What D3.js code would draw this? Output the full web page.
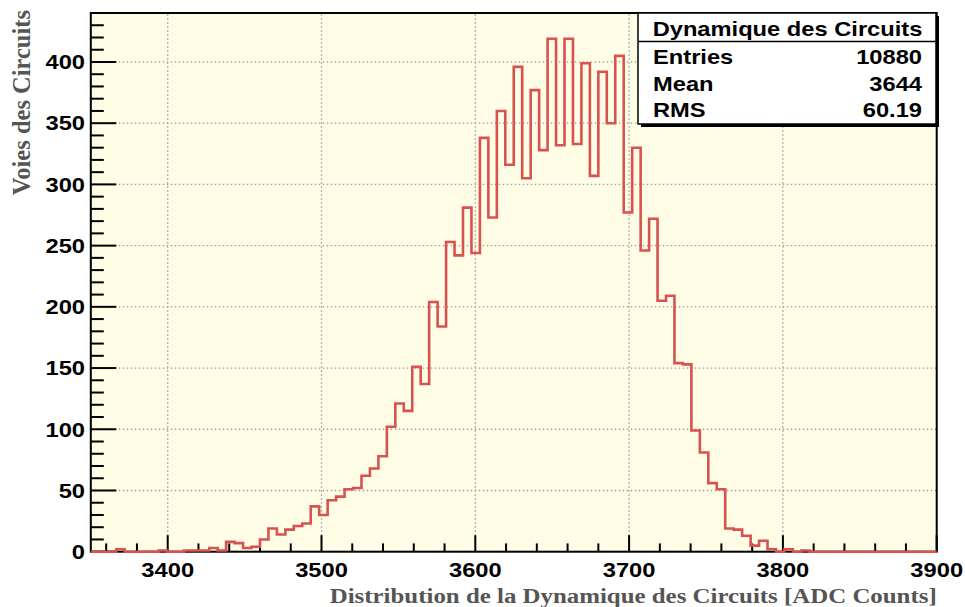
<!DOCTYPE html>
<html>
<head>
<meta charset="utf-8">
<script src="https://cdn.jsdelivr.net/npm/d3@7"></script>
<style>
  html, body { margin: 0; padding: 0; background: #ffffff; }
  svg { display: block; }
</style>
</head>
<body>
<svg id="chart" width="965" height="607"></svg>
<script>
// Histogram binning: 100 bins of 5.5 ADC counts starting at 3350
const binStart = 3350;
const binWidth = 5.5;
const binCounts = [
  0, 0, 0, 2, 0, 0, 0, 0, 1, 0,
  0, 1, 1, 1, 3, 1, 8, 7, 3, 4,
  10, 19, 14, 18, 21, 23, 37, 30, 42, 45,
  51, 52, 62, 68, 78, 102, 121, 115, 151, 137,
  204, 184, 253, 242, 281, 244, 338, 273, 360, 316,
  396, 305, 377, 328, 419, 332, 419, 333, 399, 307,
  392, 350, 405, 277, 330, 246, 272, 205, 209, 154,
  153, 99, 81, 56, 51, 19, 18, 13, 5, 9,
  2, 0, 2, 0, 1, 0, 0, 0, 0, 0,
  0, 0, 0, 0, 0, 0, 0, 0, 0, 0
];

// Axis ranges and tick values
const xDomain = [3350, 3900];
const yDomain = [0, 440];
const xMajorTicks = [3400, 3500, 3600, 3700, 3800, 3900];
const xMinorTicks = [3360, 3380, 3420, 3440, 3460, 3480, 3520, 3540, 3560, 3580,
                     3620, 3640, 3660, 3680, 3720, 3740, 3760, 3780, 3820, 3840, 3860, 3880];
const yMajorTicks = [0, 50, 100, 150, 200, 250, 300, 350, 400];
const yMinorTicks = [10, 20, 30, 40, 60, 70, 80, 90, 110, 120, 130, 140, 160, 170, 180, 190,
                     210, 220, 230, 240, 260, 270, 280, 290, 310, 320, 330, 340, 360, 370, 380, 390,
                     410, 420, 430];

// Text
const xTitle = "Distribution de la Dynamique des Circuits [ADC Counts]";
const yTitle = "Voies des Circuits";
const statsTitle = "Dynamique des Circuits";
const statsLabels = ["Entries", "Mean", "RMS"];
const statsValues = ["10880", "3644", "60.19"];

const svg = d3.select("#chart");
const frame = { left: 90.8, right: 936.7, top: 13, bottom: 551.7 };

const x = d3.scaleLinear().domain(xDomain).range([frame.left, frame.right]);
const y = d3.scaleLinear().domain(yDomain).range([frame.bottom, frame.top]);

const sansBold = "'Liberation Sans', Arial, Helvetica, sans-serif";
const serifBold = "'Liberation Serif', 'Times New Roman', Times, serif";
const textStretch = 1.185;   // wide glyph aspect of the canvas fonts

// Draws a horizontally widened text label anchored at (px, py)
function wideText(parent, px, py, str, anchor, family, size, fill) {
  const g = parent.append("g")
    .attr("transform", `translate(${px},${py}) scale(${textStretch},1)`);
  g.append("text")
    .attr("x", 0).attr("y", 0)
    .attr("text-anchor", anchor)
    .attr("font-family", family).attr("font-weight", "bold").attr("font-size", size)
    .attr("fill", fill)
    .text(str);
  return g;
}

// Frame background
svg.append("rect")
  .attr("x", frame.left).attr("y", frame.top)
  .attr("width", frame.right - frame.left).attr("height", frame.bottom - frame.top)
  .attr("fill", "#fffde6");

// Dotted grid
const grid = svg.append("g")
  .attr("stroke", "#9a9a9a").attr("stroke-width", 1.3)
  .attr("stroke-dasharray", "1.4,2.6");
grid.selectAll("line.gx").data(xMajorTicks).join("line")
  .attr("class", "gx")
  .attr("x1", d => x(d)).attr("x2", d => x(d))
  .attr("y1", frame.bottom).attr("y2", frame.top);
grid.selectAll("line.gy").data(yMajorTicks).join("line")
  .attr("class", "gy")
  .attr("x1", frame.left).attr("x2", frame.right)
  .attr("y1", d => y(d)).attr("y2", d => y(d));

// Frame border
svg.append("rect")
  .attr("x", frame.left).attr("y", frame.top)
  .attr("width", frame.right - frame.left).attr("height", frame.bottom - frame.top)
  .attr("fill", "none").attr("stroke", "#000").attr("stroke-width", 2);

// Inward ticks
const ticks = svg.append("g").attr("stroke", "#000").attr("stroke-width", 2);
ticks.selectAll("line.xM").data(xMajorTicks).join("line")
  .attr("x1", d => x(d)).attr("x2", d => x(d))
  .attr("y1", frame.bottom).attr("y2", frame.bottom - 16.5);
ticks.selectAll("line.xm").data(xMinorTicks).join("line")
  .attr("x1", d => x(d)).attr("x2", d => x(d))
  .attr("y1", frame.bottom).attr("y2", frame.bottom - 8.3);
ticks.selectAll("line.yM").data(yMajorTicks).join("line")
  .attr("x1", frame.left).attr("x2", frame.left + 25.5)
  .attr("y1", d => y(d)).attr("y2", d => y(d));
ticks.selectAll("line.ym").data(yMinorTicks).join("line")
  .attr("x1", frame.left).attr("x2", frame.left + 13)
  .attr("y1", d => y(d)).attr("y2", d => y(d));

// Tick labels
const xLabels = svg.append("g");
xMajorTicks.forEach(t => wideText(xLabels, x(t), 577, t, "middle", sansBold, 20, "#000"));
const yLabels = svg.append("g");
yMajorTicks.forEach(t => wideText(yLabels, 85, y(t) + 7.3, t, "end", sansBold, 20, "#000"));

// Axis titles
wideText(svg, frame.right, 603, xTitle, "end", serifBold, 21, "#555");
svg.append("text")
  .attr("transform", `translate(30, 10) rotate(-90)`)
  .attr("text-anchor", "end")
  .attr("font-family", serifBold).attr("font-weight", "bold").attr("font-size", 24.5)
  .attr("fill", "#555")
  .text(yTitle);

// Histogram outline
const edges = d3.range(binCounts.length + 1).map(i => binStart + i * binWidth);
const pts = binCounts.map((c, i) => [edges[i], c]);
pts.push([edges[binCounts.length], binCounts[binCounts.length - 1]]);
const step = d3.line()
  .x(d => x(d[0])).y(d => y(d[1]))
  .curve(d3.curveStepAfter);
svg.append("path")
  .attr("d", step(pts))
  .attr("fill", "none")
  .attr("stroke", "#d8524f").attr("stroke-width", 2.6)
  .attr("stroke-linejoin", "miter");

// Statistics box with shadow
const box = { x: 638, y: 13, w: 298, h: 111 };
svg.append("rect")
  .attr("x", box.x + 3).attr("y", box.y + 3).attr("width", box.w).attr("height", box.h)
  .attr("fill", "#000");
svg.append("rect")
  .attr("x", box.x).attr("y", box.y).attr("width", box.w).attr("height", box.h)
  .attr("fill", "#fff").attr("stroke", "#000").attr("stroke-width", 1.5);
svg.append("line")
  .attr("x1", box.x).attr("x2", box.x + box.w)
  .attr("y1", 41.5).attr("y2", 41.5)
  .attr("stroke", "#000").attr("stroke-width", 1.5);
wideText(svg, box.x + box.w / 2 + 0.5, 36, statsTitle, "middle", sansBold, 20, "#000");
const rowY = [63.5, 90.5, 117];
statsLabels.forEach((s, i) => wideText(svg, 653, rowY[i], s, "start", sansBold, 20, "#000"));
statsValues.forEach((s, i) => wideText(svg, 922, rowY[i], s, "end", sansBold, 20, "#000"));
</script>
</body>
</html>
